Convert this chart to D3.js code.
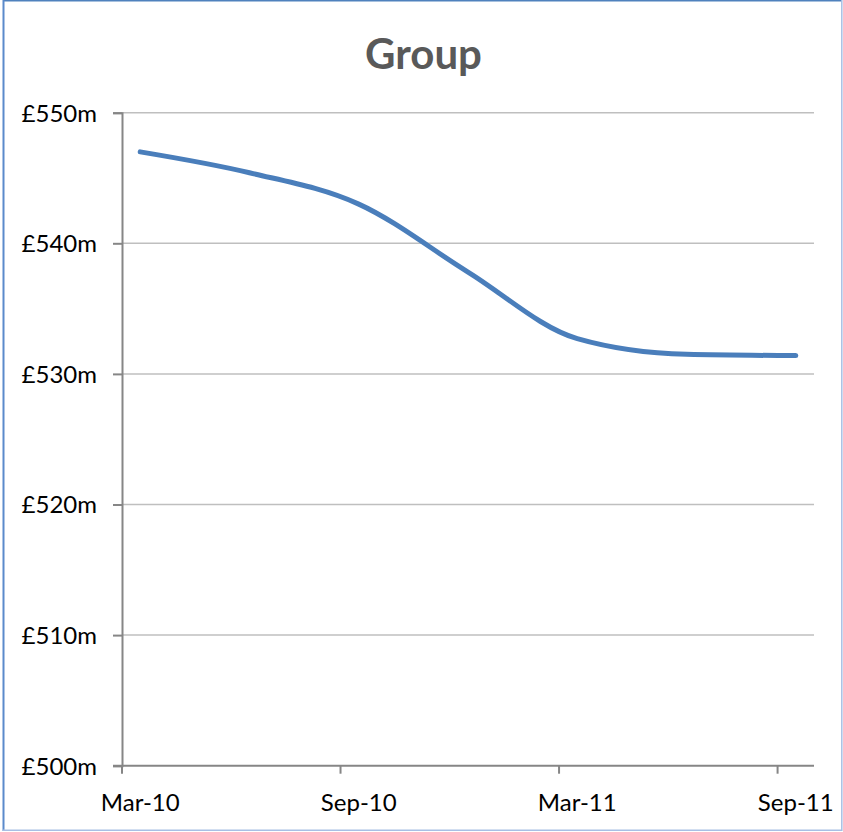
<!DOCTYPE html>
<html>
<head>
<meta charset="utf-8">
<script src="https://cdn.jsdelivr.net/npm/d3@7"></script>
<style>
  html, body { margin: 0; padding: 0; background: #fff; }
  svg { display: block; }
  text { font-family: Lato, "Open Sans", sans-serif; }
</style>
</head>
<body>
<svg id="chart" width="843" height="832"></svg>
<script>
// Quarter-end balances for the Group, £m
const periods = ["2010-03", "2010-06", "2010-09", "2010-12", "2011-03", "2011-06", "2011-09"];
const values  = [547.0, 545.4, 543.0, 537.8, 532.7, 531.5, 531.4];

// Axis labels
const xTickPeriods = ["2010-03", "2010-09", "2011-03", "2011-09"];
const yTicks = [500, 510, 520, 530, 540, 550];
const title = "Group";

const svg = d3.select("#chart");
const W = 843, H = 832;
const plot = { left: 122, right: 814, top: 112.7, bottom: 765.7 };

const parseMonth = d3.utcParse("%Y-%m");
const fmtKey = d3.utcFormat("%Y-%m");
const fmtLabel = d3.utcFormat("%b-%y");

// One band per month across the date axis
const months = d3.utcMonth.range(parseMonth("2010-03"), parseMonth("2011-10")).map(fmtKey);
const x = d3.scaleBand().domain(months).range([plot.left, plot.right]).padding(0);
const bw = x.bandwidth();
const y = d3.scaleLinear().domain([500, 550]).range([plot.bottom, plot.top]);

// Frame
svg.append("rect").attr("width", W).attr("height", H).attr("fill", "#fff");
svg.append("line").attr("x1", 3).attr("x2", 842).attr("y1", 0.8).attr("y2", 0.8)
  .attr("stroke", "#4F81BD").attr("stroke-width", 1.6);
svg.append("line").attr("x1", 3.5).attr("x2", 3.5).attr("y1", 0).attr("y2", 831)
  .attr("stroke", "#5B8ACB").attr("stroke-width", 2);
svg.append("line").attr("x1", 841.8).attr("x2", 841.8).attr("y1", 0).attr("y2", 831)
  .attr("stroke", "#A7BFE4").attr("stroke-width", 1.5);
svg.append("line").attr("x1", 3).attr("x2", 842).attr("y1", 830.2).attr("y2", 830.2)
  .attr("stroke", "#A7BFE4").attr("stroke-width", 1.5);

// Title
svg.append("text")
  .attr("x", 423.5).attr("y", 68.5)
  .attr("text-anchor", "middle")
  .attr("font-size", 42).attr("font-weight", 700)
  .attr("fill", "#595959")
  .text(title);

// Horizontal gridlines
svg.append("g").selectAll("line")
  .data(yTicks.filter(v => v !== 500))
  .join("line")
  .attr("x1", plot.left).attr("x2", plot.right)
  .attr("y1", d => y(d)).attr("y2", d => y(d))
  .attr("stroke", "#BFBFBF").attr("stroke-width", 1.5);

// Y axis
const yAxis = svg.append("g")
  .attr("transform", `translate(${plot.left},0)`)
  .call(d3.axisLeft(y).tickValues(yTicks).tickSize(9).tickPadding(16)
    .tickFormat(d => "£" + d + "m"));
yAxis.select(".domain").attr("stroke", "#868686").attr("stroke-width", 2);
yAxis.selectAll(".tick line").attr("stroke", "#868686").attr("stroke-width", 2);
yAxis.selectAll(".tick text")
  .attr("font-size", 24).attr("fill", "#000")
  .attr("font-family", "Lato, sans-serif")
  .attr("dy", "0.35em");

// X axis: ticks at month starts, labels centred in the month
const xAxis = svg.append("g")
  .attr("transform", `translate(0,${plot.bottom})`)
  .call(d3.axisBottom(x).tickValues(xTickPeriods).tickSize(8).tickPadding(20)
    .tickFormat(d => fmtLabel(parseMonth(d))));
xAxis.select(".domain").attr("stroke", "#868686").attr("stroke-width", 2)
  .attr("d", `M${plot.left - 9},0H${plot.right}`);
xAxis.selectAll(".tick line")
  .attr("x1", -bw / 2).attr("x2", -bw / 2)
  .attr("stroke", "#868686").attr("stroke-width", 2);
xAxis.selectAll(".tick text")
  .attr("font-size", 24).attr("fill", "#000")
  .attr("font-family", "Lato, sans-serif");

// Series line
const data = periods.map((p, i) => ({ p, v: values[i] }));
const line = d3.line()
  .x(d => x(d.p) + bw / 2)
  .y(d => y(d.v))
  .curve(d3.curveMonotoneX);

svg.append("path")
  .datum(data)
  .attr("d", line)
  .attr("fill", "none")
  .attr("stroke", "#4A7EBB")
  .attr("stroke-width", 5)
  .attr("stroke-linecap", "round")
  .attr("stroke-linejoin", "round");
</script>
</body>
</html>
